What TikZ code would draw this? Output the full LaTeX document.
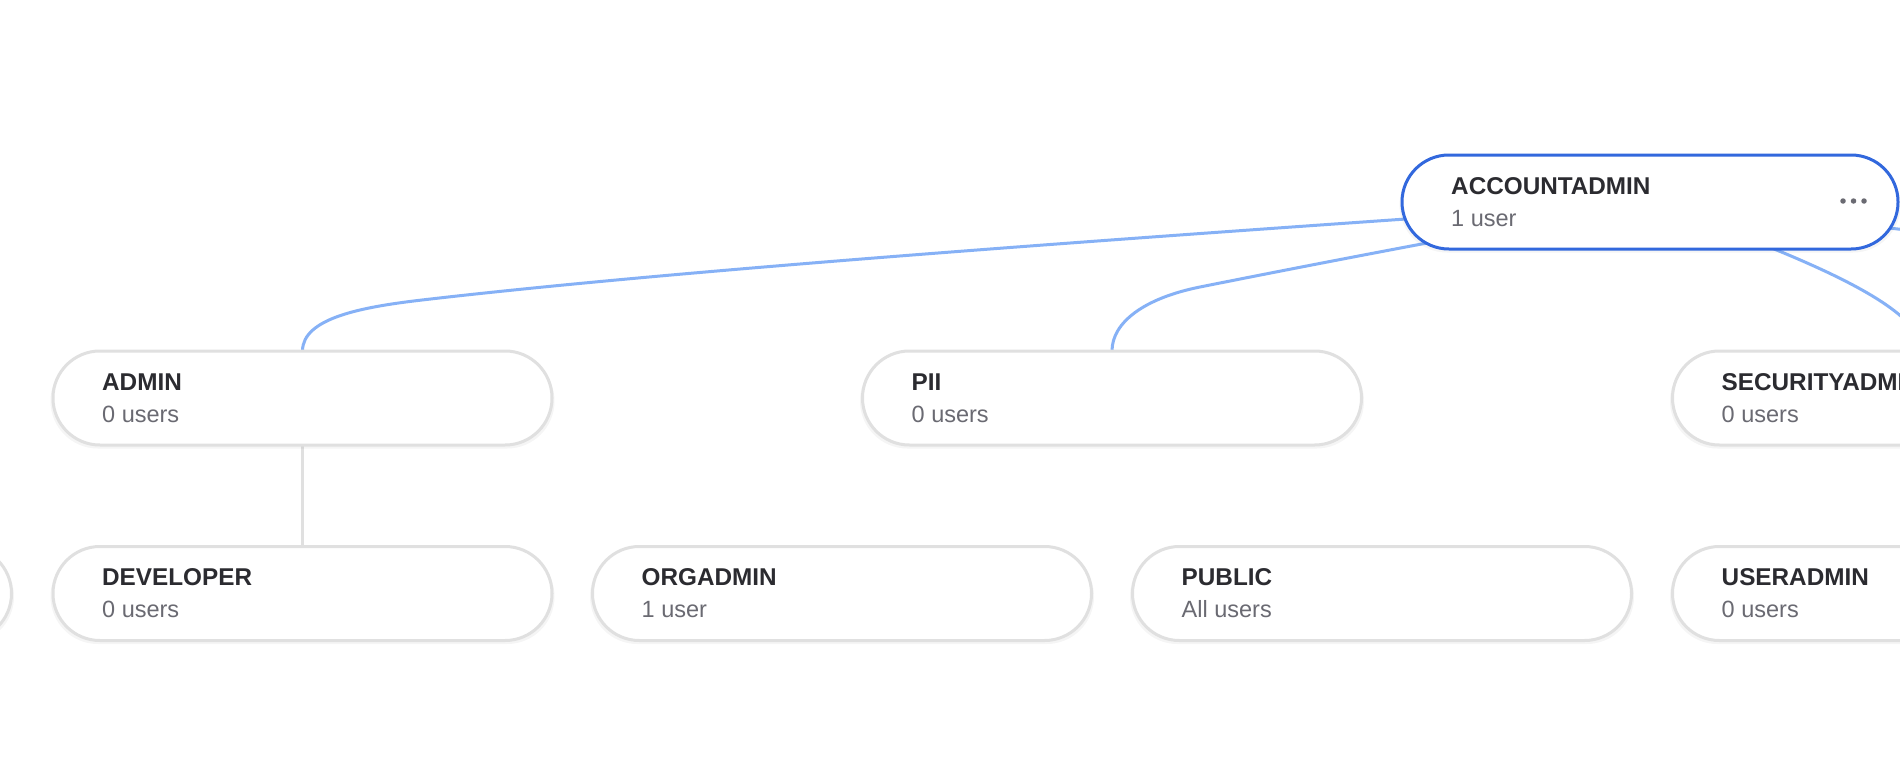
\documentclass[tikz,border=0pt]{standalone}
\usepackage{fontspec}
\setmainfont{Liberation Sans}
\usetikzlibrary{calc,shadows}
\definecolor{edgeblue}{RGB}{134,177,246}
\definecolor{selblue}{RGB}{50,104,221}
\definecolor{pillgrey}{RGB}{224,224,224}
\definecolor{titlecol}{RGB}{43,43,48}
\definecolor{subcol}{RGB}{106,106,114}
\pgfdeclarelayer{bottom}
\pgfdeclarelayer{background}
\pgfsetlayers{bottom,background,main}
\tikzset{
 pill/.style={draw=pillgrey, line width=3pt, fill=white, rectangle, rounded corners=46.9pt,
   minimum width=499pt, minimum height=94pt, inner sep=0pt, outer sep=0pt,
   general shadow={shadow yshift=-3pt, shadow scale=1.01, fill=black, opacity=0.04}},
 selpill/.style={pill, draw=selblue, minimum width=496pt},
 title/.style={anchor=base west, inner sep=0pt, font=\fontsize{24.3}{28}\selectfont\bfseries, text=titlecol},
 sub/.style={anchor=base west, inner sep=0pt, font=\fontsize{23.5}{26}\selectfont, text=subcol},
 edge/.style={draw=edgeblue, line width=3pt},
 treeedge/.style={draw=pillgrey, line width=3pt},
 dot/.style={circle, fill=subcol, inner sep=0pt, minimum size=5.5pt}
}
\begin{document}
\begin{tikzpicture}[x=1pt,y=-1pt]
\useasboundingbox (0,0) rectangle (1900,768);
\clip (0,0) rectangle (1900,768);
\begin{pgfonlayer}{bottom}
\fill[white] (0,0) rectangle (1900,768);
\end{pgfonlayer}

% nodes
\node[selpill] (acct) at (1650,202) {};
\node[pill] (admin) at (302.5,398) {};
\node[pill] (pii) at (1112,398) {};
\node[pill] (secadmin) at (1922,398) {};
\node[pill] (leftnode) at (-238,593.5) {};
\node[pill] (dev) at (302.5,593.5) {};
\node[pill] (org) at (842,593.5) {};
\node[pill] (public) at (1382,593.5) {};
\node[pill] (useradmin) at (1922,593.5) {};
\coordinate (offright) at (2462,351);

% texts
\node[title] (acct-t) at ($(acct.west)+(49,-8)$) {ACCOUNTADMIN};
\node[sub] (acct-s) at ($(acct.west)+(49,24)$) {1 user};
\node[title] (admin-t) at ($(admin.west)+(49,-8)$) {ADMIN};
\node[sub] (admin-s) at ($(admin.west)+(49,24)$) {0 users};
\node[title] (pii-t) at ($(pii.west)+(49,-8)$) {PII};
\node[sub] (pii-s) at ($(pii.west)+(49,24)$) {0 users};
\node[title] (sec-t) at ($(secadmin.west)+(49,-8)$) {SECURITYADMIN};
\node[sub] (sec-s) at ($(secadmin.west)+(49,24)$) {0 users};
\node[title] (dev-t) at ($(dev.west)+(49,-8)$) {DEVELOPER};
\node[sub] (dev-s) at ($(dev.west)+(49,24)$) {0 users};
\node[title] (org-t) at ($(org.west)+(49,-8)$) {ORGADMIN};
\node[sub] (org-s) at ($(org.west)+(49,24)$) {1 user};
\node[title] (pub-t) at ($(public.west)+(49,-8)$) {PUBLIC};
\node[sub] (pub-s) at ($(public.west)+(49,24)$) {All users};
\node[title] (ua-t) at ($(useradmin.west)+(49,-8)$) {USERADMIN};
\node[sub] (ua-s) at ($(useradmin.west)+(49,24)$) {0 users};

% menu dots
\node[dot] (dot1) at ($(acct.east)+(-55,-1)$) {};
\node[dot] (dot2) at ($(acct.east)+(-44.5,-1)$) {};
\node[dot] (dot3) at ($(acct.east)+(-34,-1)$) {};

% connectors
\begin{pgfonlayer}{background}
\draw[edge] (admin.north) .. controls (302.5,318) and (362,307) .. (422,300)
  .. controls (722,265) and (1250,230) .. (acct.center);
\draw[edge] (pii.north) .. controls (1112,322) and (1145,298) .. (1200,287)
  .. controls (1350,257) and (1500,229) .. (acct.center);
\draw[edge] (acct.center) .. controls (1800,256) and (1922,305) .. (secadmin.north);
\draw[edge] (acct.center) .. controls (2100,250) and (2462,290) .. (offright);
\draw[treeedge] (admin.south) -- (dev.north);
\end{pgfonlayer}
\end{tikzpicture}
\end{document}
